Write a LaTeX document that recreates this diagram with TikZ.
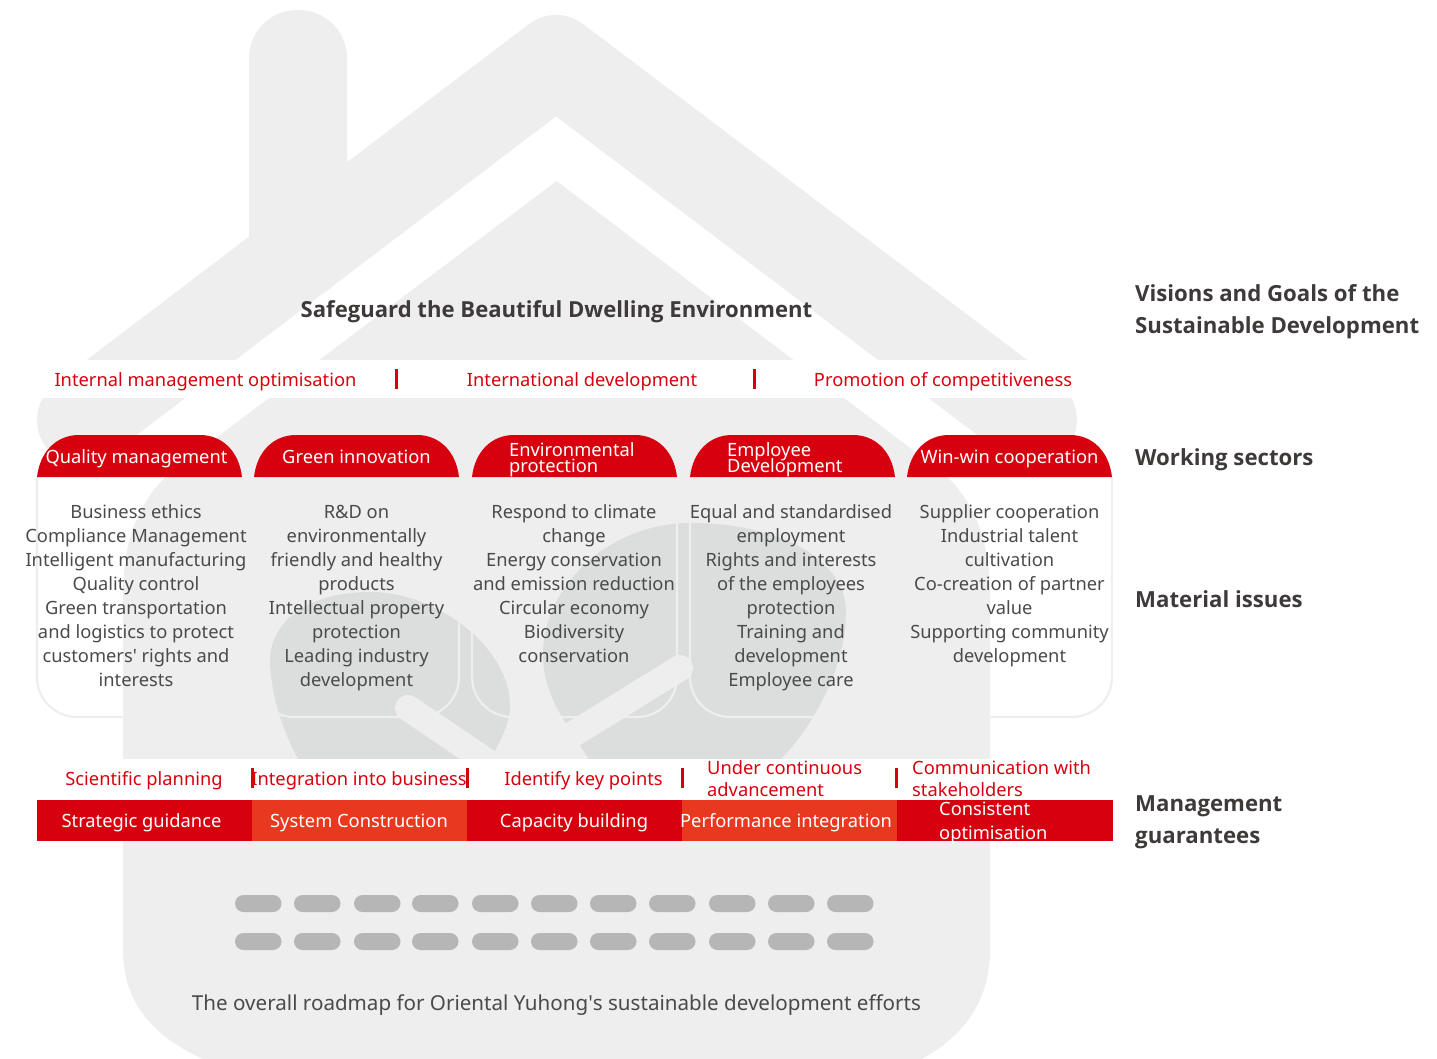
\documentclass[tikz,border=0pt]{standalone}
\usepackage{fontspec}
\setmainfont{Noto Sans}
\newfontfamily\boldface{Open Sans}[Scale=1.0]
\definecolor{housegrey}{HTML}{EEEEEE}
\definecolor{leafgrey}{HTML}{DCDEDD}
\definecolor{pillgrey}{HTML}{B5B6B5}
\definecolor{brandred}{HTML}{D7000F}
\definecolor{brandorange}{HTML}{E83820}
\definecolor{bodytext}{HTML}{4A4A4A}
\definecolor{darktext}{HTML}{3E3A39}
\newcommand{\fl}{\rule{0pt}{25pt}}
\newcommand{\tightlines}{\lineskiplimit -100pt\relax}
\tikzset{
  x=1pt,y=-1pt,
  txt/.style={anchor=north,align=center,inner sep=0pt,font=\fontsize{18.3}{24}\selectfont\tightlines},
  txtl/.style={txt,anchor=north west,align=left},
  bodyt/.style={txt,text=bodytext},
  redt/.style={txt,text=brandred},
  redl/.style={txtl,text=brandred,font=\fontsize{18.3}{22}\selectfont\tightlines},
  whitet/.style={txt,text=white},
  headl/.style={txtl,text=white,font=\fontsize{18.3}{16}\selectfont\tightlines},
  sidet/.style={txtl,text=darktext,font=\boldface\fontsize{22.2}{32}\selectfont\bfseries\tightlines},
  sep/.style={draw=brandred,line width=3pt},
  pill/.style={fill=pillgrey,rounded corners=8.5pt},
  branch/.style={draw=housegrey,line width=26pt,line cap=round}
}
\begin{document}
\begin{tikzpicture}
\useasboundingbox (0,0) rectangle (1437,1059);
\begin{scope}
\clip (0,0) rectangle (1437,1059);
% roof
\draw[housegrey,line width=90pt,line cap=round,line join=round] (82,420) -- (556,60) -- (1032,420);
% chimney
\fill[housegrey,rounded corners=48pt] (249,300) -- (249,10) -- (347,10) -- (347,300) -- cycle;
\fill[housegrey] (249,100) rectangle (347,235);
\fill[housegrey] (249,235) -- (347,160) -- (347,235) -- cycle;
% body
\fill[housegrey] (556.5,181) -- (175,469) .. controls (140,496) and (123,540) .. (123,593)
  -- (123,950) .. controls (123,1000) and (150,1035) .. (203,1059) -- (203,1070) -- (922,1070) -- (922,1059)
  .. controls (965,1035) and (990,1000) .. (990,950) -- (990,593)
  .. controls (990,540) and (973,496) .. (938,469) -- cycle;
% leaves
\fill[leafgrey] (270,665) .. controls (268,620) and (310,592) .. (370,592)
  .. controls (440,592) and (510,650) .. (510,705) .. controls (510,722) and (503,735) .. (495,751)
  -- (480,790) -- (320,790) -- (298,759) .. controls (285,735) and (272,700) .. (270,665) -- cycle;
\fill[leafgrey] (543,655) .. controls (543,585) and (610,523) .. (690,523)
  .. controls (780,523) and (846,560) .. (846,612) .. controls (846,670) and (810,730) .. (781,759)
  -- (700,800) -- (610,790) -- (588,758) -- (567,725) .. controls (552,702) and (543,680) .. (543,655) -- cycle;
% branches
\draw[branch] (408,708) -- (520,784);
\draw[branch] (680,668) -- (520,767);
% white strips
\fill[white] (0,360) rectangle (1437,398);
\fill[white] (0,759) rectangle (1437,800);
% sector outlines
\foreach \x in {37,254,472,690,907}
  \draw[housegrey,line width=2.2pt,rounded corners=40pt] (\x,477) -- (\x,717) -- (\x+205,717) -- (\x+205,477);
% sector heads
\foreach \x in {37,254,472,690,907}
  \fill[brandred] (\x,477) .. controls (\x+3,451) and (\x+20,435) .. (\x+42,435) -- (\x+163,435)
    .. controls (\x+185,435) and (\x+202,451) .. (\x+205,477) -- cycle;
% management bar
\fill[brandred] (37,800) rectangle (252,841);
\fill[brandorange] (252,800) rectangle (467,841);
\fill[brandred] (467,800) rectangle (682,841);
\fill[brandorange] (682,800) rectangle (897,841);
\fill[brandred] (897,800) rectangle (1113,841);
% separators
\draw[sep] (396,369) -- (396,389);
\draw[sep] (754,369) -- (754,389);
\draw[sep] (252,768) -- (252,788);
\draw[sep] (467,768) -- (467,788);
\draw[sep] (682,768) -- (682,788);
\draw[sep] (896,768) -- (896,788);
% pills
\foreach \x in {235,294,354,412,472,531,590,649,709,768,827} {
  \fill[pill] (\x,895) rectangle (\x+46.5,912);
  \fill[pill] (\x,933) rectangle (\x+46.5,950);
}
\end{scope}
% title and strip
\node[txt,text=darktext,font=\boldface\fontsize{22.1}{28}\selectfont\bfseries] (title) at (556.5,292) {\fl Safeguard the Beautiful Dwelling Environment};
\node[redt] (imo) at (205.5,361) {\fl Internal management optimisation};
\node[redt] (intl) at (582,361) {\fl International development};
\node[redt] (comp) at (943,361) {\fl Promotion of competitiveness};
% heads
\node[whitet] (h1) at (136.5,438) {\fl Quality management};
\node[whitet] (h2) at (356.5,438) {\fl Green innovation};
\node[headl] (h3) at (509,431) {\fl Environmental\\protection};
\node[headl] (h4) at (727,431) {\fl Employee\\Development};
\node[whitet] (h5) at (1009.5,438) {\fl Win-win cooperation};
% material issues
\node[bodyt] (m1) at (136,493) {\fl Business ethics\\Compliance Management\\Intelligent manufacturing\\Quality control\\Green transportation\\and logistics to protect\\customers\textquotesingle{} rights and\\interests};
\node[bodyt] (m2) at (356.5,493) {\fl R\&D on\\environmentally\\friendly and healthy\\products\\Intellectual property\\protection\\Leading industry\\development};
\node[bodyt] (m3) at (574,493) {\fl Respond to climate\\change\\Energy conservation\\and emission reduction\\Circular economy\\Biodiversity\\conservation};
\node[bodyt] (m4) at (791,493) {\fl Equal and standardised\\employment\\Rights and interests\\of the employees\\protection\\Training and\\development\\Employee care};
\node[bodyt] (m5) at (1009.5,493) {\fl Supplier cooperation\\Industrial talent\\cultivation\\Co-creation of partner\\value\\Supporting community\\development};
% management strip
\node[redt] (g1) at (144,760) {\fl Scientific planning};
\node[redt] (g2) at (359,760) {\fl Integration into business};
\node[redt] (g3) at (583.5,760) {\fl Identify key points};
\node[redl] (g4) at (707,749) {\fl Under continuous\\advancement};
\node[redl] (g5) at (912,749) {\fl Communication with\\stakeholders};
% bar texts
\node[whitet] (b1) at (141.5,802) {\fl Strategic guidance};
\node[whitet] (b2) at (359,802) {\fl System Construction};
\node[whitet] (b3) at (574,802) {\fl Capacity building};
\node[whitet] (b4) at (786,802) {\fl Performance integration};
\node[txtl,text=white] (b5) at (939,790) {\fl Consistent\\optimisation};
% roadmap
\node[bodyt,font=\fontsize{20.6}{24}\selectfont] (road) at (556.5,985) {\fl The overall roadmap for Oriental Yuhong\textquotesingle{}s sustainable development efforts};
% side labels
\node[sidet] (s1) at (1135,276) {\fl Visions and Goals of the\\Sustainable Development};
\node[sidet] (s2) at (1135,440) {\fl Working sectors};
\node[sidet] (s3) at (1135,582) {\fl Material issues};
\node[sidet] (s4) at (1135,786) {\fl Management\\guarantees};
\end{tikzpicture}
\end{document}
